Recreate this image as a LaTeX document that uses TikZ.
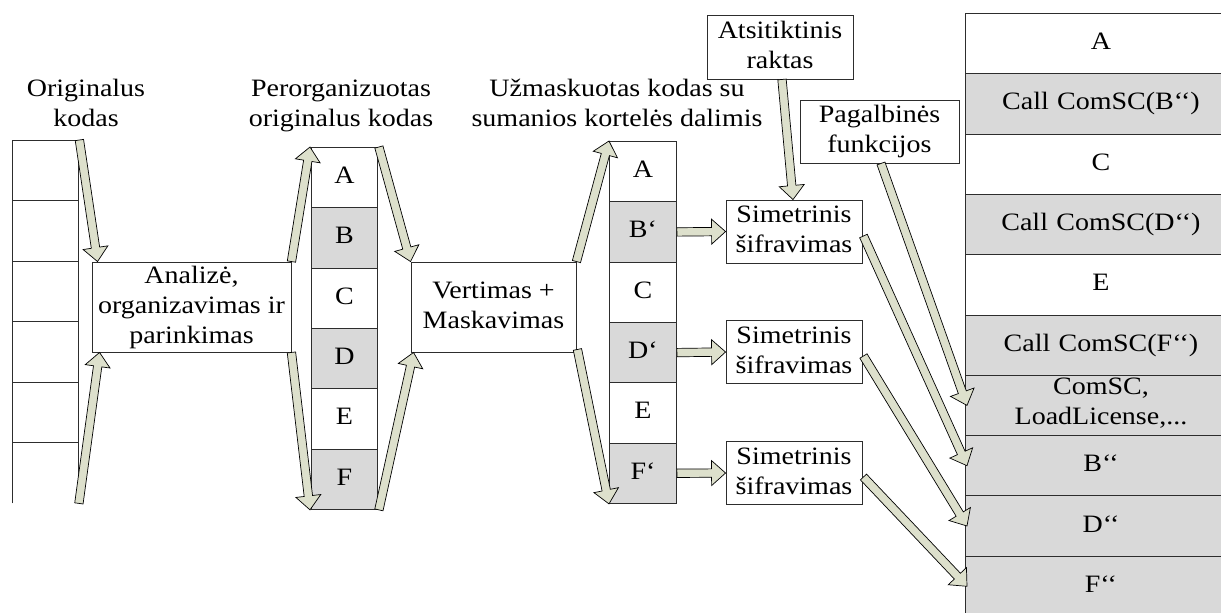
\documentclass[tikz,border=0pt]{standalone}
\usepackage{fontspec}
\setmainfont{Liberation Serif}[FakeStretch=1.12]
\usetikzlibrary{calc}

\definecolor{cellgrey}{RGB}{217,217,217}
\definecolor{arrowfill}{RGB}{221,224,204}
\definecolor{linegrey}{RGB}{45,45,45}

% hollow block arrow from the tail point #1 to the tip point #2
\newcommand\blockarrow[2]{%
  \path[barrow] let \p1=(#1), \p2=(#2),
      \n1={atan2(\y2-\y1,\x2-\x1)}, \n2={veclen(\x2-\x1,\y2-\y1)}
    in [shift={(\p1)}, rotate=\n1]
      (0pt,-4.2pt) -- ({\n2*1pt-14pt},-4.2pt) -- ({\n2*1pt-14pt},-12.5pt)
      -- ({\n2*1pt},0pt) -- ({\n2*1pt-14pt},12.5pt) -- ({\n2*1pt-14pt},4.2pt)
      -- (0pt,4.2pt) -- cycle;}

\tikzset{
  txt/.style={font=\fontsize{25}{30}\selectfont, align=center, inner sep=0pt},
  cell/.style={txt, draw=linegrey, line width=0.9pt, anchor=north west,
               minimum height=60.33pt, fill=white},
  greycell/.style={cell, fill=cellgrey},
  procbox/.style={txt, draw=linegrey, line width=0.9pt, fill=white},
  barrow/.style={fill=arrowfill, draw=black, line width=0.7pt, line join=miter},
}

\begin{document}
\begin{tikzpicture}[x=1pt, y=-1pt]
\useasboundingbox (0,0) rectangle (1221,613);
\clip (0,0) rectangle (1221,613);

% column headings
\node[txt] (h1) at (86,105) {Originalus\strut\\kodas\strut};
\node[txt] (h2) at (341,105) {Perorganizuotas\strut\\originalus kodas\strut};
\node[txt] (h3) at (617,105) {Užmaskuotas kodas su\strut\\sumanios kortelės dalimis\strut};

% original code: open column of six empty cells
\foreach \k in {1,...,6}
  \node[txt, anchor=north west, minimum width=66pt, minimum height=60.5pt]
    (o\k) at (12,{140+60.5*(\k-1)}) {};
\draw[linegrey, line width=0.9pt]
  (o6.south west) -- (o1.north west) -- (o1.north east) -- (o6.south east);
\foreach \k in {1,...,5}
  \draw[linegrey, line width=0.9pt] (o\k.south west) -- (o\k.south east);

% reorganised code
\foreach \k/\t/\s in {1/A/cell, 2/B/greycell, 3/C/cell, 4/D/greycell, 5/E/cell, 6/F/greycell}
  \node[\s, minimum width=66pt] (m\k) at (311,{147+60.33*(\k-1)}) {\t\strut};

% masked code with card parts
\foreach \k/\t/\s in {1/A/cell, 2/B‘/greycell, 3/C/cell, 4/D‘/greycell, 5/E/cell, 6/F‘/greycell}
  \node[\s, minimum width=67pt] (c\k) at (609,{141+60.33*(\k-1)}) {\t\strut};

% resulting program layout
\foreach \k/\t/\s in {1/A/cell, 2/Call ComSC(B‘‘)/greycell, 3/C/cell,
    4/Call ComSC(D‘‘)/greycell, 5/E/cell, 6/Call ComSC(F‘‘)/greycell,
    7/{ComSC,\\LoadLicense,...}/greycell, 8/B‘‘/greycell, 9/D‘‘/greycell, 10/F‘‘/greycell}
  \node[\s, minimum width=271pt, text width=271pt] (r\k) at (965,{13+60.3*(\k-1)}) {\t\strut};

% processing boxes
\node[procbox, minimum width=199pt, minimum height=90pt] (an) at (191.5,307)
  {Analizė,\strut\\organizavimas ir\strut\\parinkimas\strut};
\node[procbox, minimum width=165pt, minimum height=90pt] (vm) at (493.5,307)
  {Vertimas +\strut\\Maskavimas\strut};
\foreach \k/\y in {1/231.5, 2/352, 3/473}
  \node[procbox, minimum width=136pt, minimum height=63pt] (s\k) at (794,\y)
    {Simetrinis\strut\\šifravimas\strut};
\node[procbox, minimum width=146pt, minimum height=64pt] (ak) at (780,47)
  {Atsitiktinis\strut\\raktas\strut};
\node[procbox, minimum width=159pt, minimum height=63pt] (pf) at (879.5,131.5)
  {Pagalbinės\strut\\funkcijos\strut};

% block arrows between the stages
\blockarrow{$(o1.north east)+(1,0)$}{$(an.north west)+(6,0)$}
\blockarrow{$(o6.south east)+(0.5,0)$}{$(an.south west)+(8,0)$}
\blockarrow{an.north east}{$(m1.north west)+(-1,0)$}
\blockarrow{an.south east}{$(m6.south west)+(-1,0)$}
\blockarrow{$(m1.north east)+(1,0)$}{vm.north west}
\blockarrow{$(m6.south east)+(1,0)$}{$(vm.south west)+(3,0)$}
\blockarrow{vm.north east}{c1.north west}
\blockarrow{$(vm.south east)+(1,-3)$}{c6.south west}
\blockarrow{c2.east}{s1.west}
\blockarrow{c4.east}{s2.west}
\blockarrow{c6.east}{s3.west}
\blockarrow{$(ak.south)+(2,0)$}{$(s1.north)+(-1,0)$}
\blockarrow{$(pf.south)+(1.5,0)$}{$(r7.west)+(2,0)$}
\blockarrow{$(s1.east)+(1,4.5)$}{$(r8.west)+(2,0)$}
\blockarrow{$(s2.east)+(1,4)$}{$(r9.west)+(2,0)$}
\blockarrow{$(s3.east)+(1,4)$}{$(r10.west)+(2,0)$}
\end{tikzpicture}
\end{document}
